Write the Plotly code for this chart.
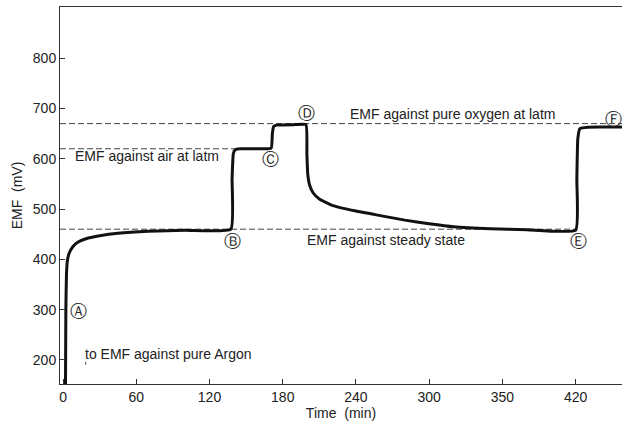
import plotly.graph_objects as go

# EMF curve (time in min, EMF in mV)
time_min = [2, 2.3, 2.8, 3.6, 5, 8, 12, 20, 30, 45, 70, 100, 137.5,
            138.5, 139.5, 141, 145, 160, 170.5,
            171.5, 172.5, 175, 190, 199,
            199.8, 200.5, 202, 205, 210, 220, 240, 260, 280, 300, 320, 350, 380, 420,
            421, 421.8, 423.5, 430, 460]
emf_mv = [150, 300, 370, 398, 412, 425, 434, 442, 447, 452, 456, 458, 460,
          560, 610, 618, 620, 620, 621,
          650, 664, 667, 668, 668,
          610, 570, 548, 532, 520, 508, 496, 487, 478, 471, 465, 461, 459, 458,
          560, 640, 660, 663, 663]

ref_levels = [670, 620, 460]
ref_ends = [460, 140, 420]

x_tickvals = [0, 60, 120, 180, 240, 300, 360, 420]
x_ticktext = ["0", "60", "120", "180", "240", "300", "350", "420"]
y_tickvals = [200, 300, 400, 500, 600, 700, 800]

labels_text = ["EMF against pure oxygen at latm", "EMF against air at latm",
               "EMF against steady state", "to EMF against pure Argon"]
labels_x = [319, 8, 265, 16]
labels_y = [690, 605, 438, 212]
labels_anchor = ["center", "left", "center", "left"]

points_text = ["Ⓐ", "Ⓑ", "Ⓒ", "Ⓓ", "Ⓔ", "Ⓕ"]
points_x = [12.5, 139, 170, 199.5, 422, 451]
points_y = [298, 436, 600, 692, 436, 680]

FONT = "Liberation Sans, Arial, sans-serif"
INK = "#222"

fig = go.Figure()
for lvl, xe in zip(ref_levels, ref_ends):
    fig.add_trace(go.Scatter(x=[-2.5, xe], y=[lvl, lvl], mode="lines",
                             line=dict(color="#444", width=1, dash="6px,3px"),
                             hoverinfo="skip", showlegend=False))
fig.add_trace(go.Scatter(x=time_min, y=emf_mv, mode="lines",
                         line=dict(color="#111", width=3, shape="spline", smoothing=0.4),
                         showlegend=False))

for t, x, y, a in zip(labels_text, labels_x, labels_y, labels_anchor):
    fig.add_annotation(x=x, y=y, text=t, showarrow=False, xanchor=a,
                       font=dict(family=FONT, size=14, color=INK))
for t, x, y in zip(points_text, points_x, points_y):
    fig.add_annotation(x=x, y=y, text=t, showarrow=False,
                       font=dict(family="DejaVu Sans", size=17, color=INK))

# small dotted pointer below the Argon note
fig.add_trace(go.Scatter(x=[18.5, 18.5], y=[196, 186], mode="lines",
                         line=dict(color="#555", width=1, dash="dot"),
                         hoverinfo="skip", showlegend=False))

fig.update_layout(
    width=622, height=425,
    margin=dict(l=60, r=0, t=7, b=41),
    paper_bgcolor="white", plot_bgcolor="white",
    font=dict(family=FONT, size=14, color=INK),
    xaxis=dict(range=[-2.5, 458], tickvals=x_tickvals, ticktext=x_ticktext,
               ticks="inside", ticklen=5, tickcolor="#333",
               showline=True, linecolor="#333", linewidth=1, mirror=True,
               showgrid=False, zeroline=False,
               title=dict(text="Time  (min)", standoff=4, font=dict(size=14))),
    yaxis=dict(range=[152, 902], tickvals=y_tickvals,
               ticks="inside", ticklen=5, tickcolor="#333",
               showline=True, linecolor="#333", linewidth=1,
               showgrid=False, zeroline=False,
               title=dict(text="EMF  (mV)", standoff=6, font=dict(size=14))),
)

fig.write_html("out.html")
